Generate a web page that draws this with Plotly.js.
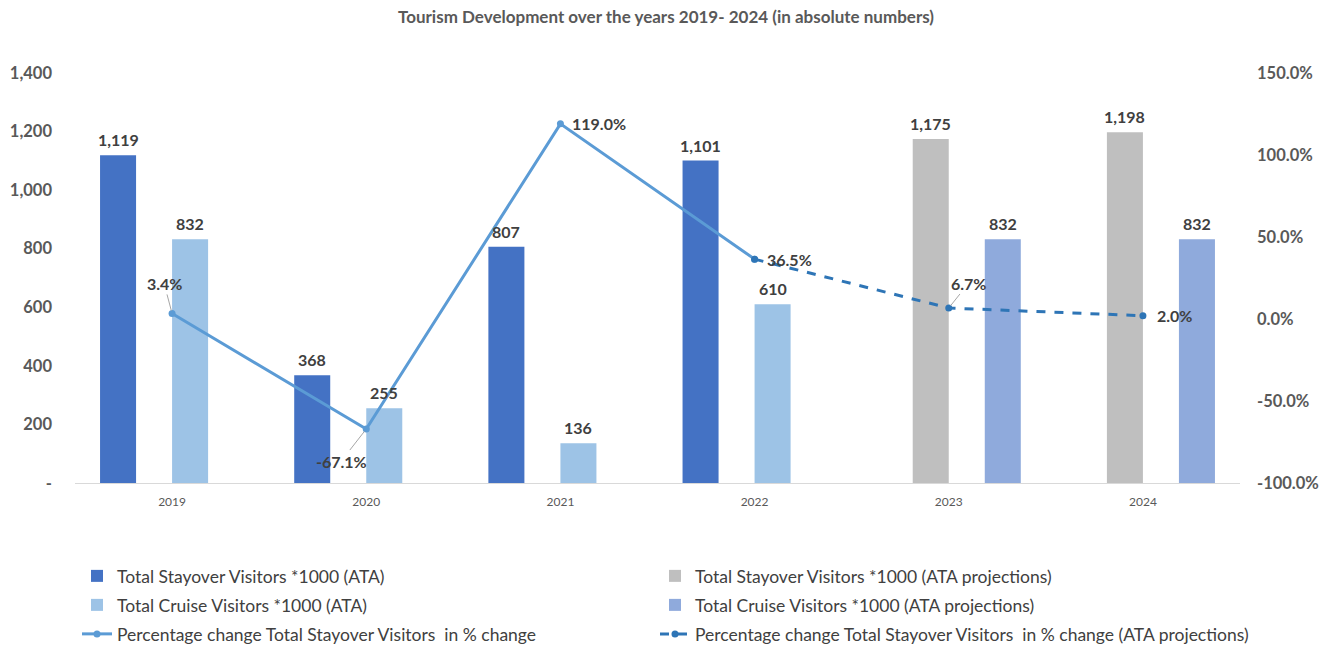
<!DOCTYPE html>
<html>
<head>
<meta charset="utf-8">
<script src="https://cdn.plot.ly/plotly-3.0.1.min.js"></script>
<style>html,body{margin:0;padding:0;background:#fff;}#chart{width:1332px;height:647px;}</style>
</head>
<body>
<div id="chart"></div>
<script>
// ---- data ----
const years = ['2019', '2020', '2021', '2022', '2023', '2024'];
const actualYears = ['2019', '2020', '2021', '2022'];
const projYears = ['2023', '2024'];
const stayover = [1119, 368, 807, 1101];
const cruise = [832, 255, 136, 610];
const stayoverProj = [1175, 1198];
const cruiseProj = [832, 832];
const pctYears = ['2019', '2020', '2021', '2022'];
const pctChange = [3.4, -67.1, 119.0, 36.5];
const pctProjYears = ['2022', '2023', '2024'];
const pctChangeProj = [36.5, 6.7, 2.0];
const leftTicks = [0, 200, 400, 600, 800, 1000, 1200, 1400];
const rightTicks = [-100, -50, 0, 50, 100, 150];

const FONT = "Lato, 'Open Sans', sans-serif";
const labelFont = {family: FONT, size: 16, color: '#404040', weight: 'bold'};
const BARGAP = 0.258;
const NSLOTS = 4;

// legend slots (style): [column, row]
const barSeries = [
  {x: actualYears, y: stayover, name: 'Total Stayover Visitors *1000 (ATA)', color: '#4472C4', legend: 'legend'},
  {x: projYears, y: stayoverProj, name: 'Total Stayover Visitors *1000 (ATA projections)', color: '#BFBFBF', legend: 'legend2'},
  {x: actualYears, y: cruise, name: 'Total Cruise Visitors *1000 (ATA)', color: '#9DC3E6', legend: 'legend3'},
  {x: projYears, y: cruiseProj, name: 'Total Cruise Visitors *1000 (ATA projections)', color: '#8FAADC', legend: 'legend4'}
];

const traces = barSeries.map(s => ({
  type: 'bar', x: s.x, y: s.y, name: s.name, marker: {color: s.color}, legend: s.legend,
  hoverinfo: 'skip'
}));
traces.push(
  {type: 'scatter', mode: 'lines+markers', x: pctYears, y: pctChange, yaxis: 'y2',
   name: 'Percentage change Total Stayover Visitors  in % change',
   line: {color: '#5B9BD5', width: 3}, marker: {color: '#5B9BD5', size: 7}, legend: 'legend5', cliponaxis: false},
  {type: 'scatter', mode: 'lines+markers', x: pctProjYears, y: pctChangeProj, yaxis: 'y2',
   name: 'Percentage change Total Stayover Visitors  in % change (ATA projections)',
   line: {color: '#2E75B6', width: 3, dash: 'dash'}, marker: {color: '#2E75B6', size: 7}, legend: 'legend6', cliponaxis: false}
);

const annotations = [];
// bar value labels, placed at each bar's group slot
const slotFrac = (1 - BARGAP) / NSLOTS;
barSeries.forEach((s, slot) => {
  s.x.forEach((yr, i) => {
    annotations.push({
      x: years.indexOf(yr) + (slot - (NSLOTS - 1) / 2) * slotFrac, y: s.y[i], xref: 'x', yref: 'y',
      text: s.y[i].toLocaleString('en-US'), font: labelFont, showarrow: false,
      xanchor: 'center', yanchor: 'bottom', yshift: 4
    });
  });
});

// percentage label placement (style): [ax, ay, showArrow]
const pctLabelStyle = [[-8, -30, true], [-25, 32, true], [10, 0, false], [10, 0, false]];
const pctProjLabelStyle = [null, [20, -25, true], [12, 0, false]];
function addLabels(xs, ys, styles) {
  xs.forEach((x, i) => {
    const s = styles[i];
    if (!s) return;
    const a = {x: years.indexOf(x), y: ys[i], xref: 'x', yref: 'y2', text: ys[i].toFixed(1) + '%',
      font: labelFont};
    if (s[2]) {
      Object.assign(a, {showarrow: true, ax: s[0], ay: s[1], arrowhead: 0, arrowwidth: 1,
        arrowcolor: '#A6A6A6', standoff: 3});
    } else {
      Object.assign(a, {showarrow: false, xanchor: 'left', xshift: s[0], yshift: s[1]});
    }
    annotations.push(a);
  });
}
addLabels(pctYears, pctChange, pctLabelStyle);
addLabels(pctProjYears, pctChangeProj, pctProjLabelStyle);

// legend grid (style): column left edges and row centres in px
const legendCols = [77, 655];
const legendRows = [576, 605, 634];
function legendAt(col, row) {
  return {orientation: 'h', xref: 'container', yref: 'container',
    x: legendCols[col] / 1332, y: (647 - legendRows[row]) / 647, xanchor: 'left', yanchor: 'middle',
    font: {family: FONT, size: 17.5, color: '#404040'}, bgcolor: 'rgba(0,0,0,0)'};
}

const layout = {
  width: 1332, height: 647,
  margin: {l: 75, r: 92, t: 73, b: 164, autoexpand: false},
  paper_bgcolor: '#ffffff', plot_bgcolor: '#ffffff',
  title: {text: 'Tourism Development over the years 2019- 2024 (in absolute numbers)',
    font: {family: FONT, size: 17, color: '#595959', weight: 'bold'},
    x: 0.5, xref: 'container', y: 0.974, yref: 'container', yanchor: 'middle'},
  barmode: 'group', bargap: BARGAP, bargroupgap: 0,
  xaxis: {type: 'category', categoryorder: 'array', categoryarray: years, range: [-0.5, 5.5],
    showline: true, linecolor: '#D9D9D9', linewidth: 1, showgrid: false, zeroline: false,
    ticks: '', tickfont: {family: FONT, size: 12, color: '#595959'}, ticklabelstandoff: 8},
  yaxis: {range: [0, 1400], tickvals: leftTicks,
    ticktext: leftTicks.map(v => v === 0 ? '-' : v.toLocaleString('en-US')),
    showgrid: false, zeroline: false, showline: false, ticks: '',
    tickfont: {family: FONT, size: 16.5, color: '#595959', weight: 'bold'}, ticklabelstandoff: 22},
  yaxis2: {range: [-100, 150], tickvals: rightTicks,
    ticktext: rightTicks.map(v => v.toFixed(1) + '%'),
    overlaying: 'y', side: 'right', showgrid: false, zeroline: false, showline: false, ticks: '',
    tickfont: {family: FONT, size: 16.5, color: '#595959', weight: 'bold'}, ticklabelstandoff: 16},
  legend: legendAt(0, 0),
  legend2: legendAt(1, 0),
  legend3: legendAt(0, 1),
  legend4: legendAt(1, 1),
  legend5: legendAt(0, 2),
  legend6: legendAt(1, 2),
  annotations: annotations,
  showlegend: true
};

Plotly.newPlot('chart', traces, layout, {displayModeBar: false, staticPlot: true});
</script>
</body>
</html>
